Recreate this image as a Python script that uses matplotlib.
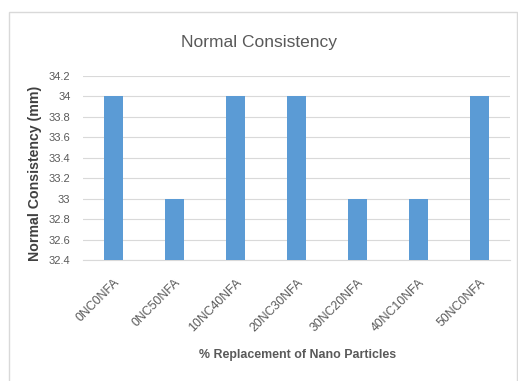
import matplotlib
matplotlib.use("Agg")
import matplotlib.pyplot as plt
from matplotlib.patches import Rectangle

categories = ["0NC0NFA", "0NC50NFA", "10NC40NFA", "20NC30NFA", "30NC20NFA", "40NC10NFA", "50NC0NFA"]
values = [34, 33, 34, 34, 33, 33, 34]
yticks = [32.4, 32.6, 32.8, 33.0, 33.2, 33.4, 33.6, 33.8, 34.0, 34.2]
ytick_labels = ["32.4", "32.6", "32.8", "33", "33.2", "33.4", "33.6", "33.8", "34", "34.2"]

plt.rcParams['font.family'] = ['Liberation Sans', 'DejaVu Sans']

fig = plt.figure(figsize=(5.18, 3.81), dpi=100)
fig.patch.set_facecolor('white')
fig.patches.append(Rectangle((9/518, -0.01), (508)/518, (381-12)/381 + 0.01,
                             transform=fig.transFigure, fill=False,
                             edgecolor='#D9D9D9', linewidth=1.0))

ax = fig.add_axes([83/518, 0.3176, 427/518, 0.483])
x = list(range(len(categories)))
ax.bar(x, values, width=0.30, color='#5B9BD5', zorder=3)
ax.set_ylim(32.4, 34.2)
ax.set_xlim(-0.5, len(categories) - 0.5)
ax.set_yticks(yticks)
ax.set_yticklabels(ytick_labels, fontsize=8, color='#595959')
ax.set_xticks(x)
ax.set_xticklabels(categories, rotation=45, ha='right', rotation_mode='anchor',
                   fontsize=8.9, color='#595959')
ax.tick_params(axis='y', length=0, pad=9)
ax.tick_params(axis='x', length=0, pad=12)
ax.grid(axis='y', color='#D9D9D9', linewidth=0.8, zorder=0)
for s in ax.spines.values():
    s.set_visible(False)
ax.spines['bottom'].set_visible(True)
ax.spines['bottom'].set_color('#D9D9D9')

fig.text(0.5, 1 - 42/381, "Normal Consistency", ha='center', va='center',
         fontsize=12.5, color='#595959')
fig.text(35/518, 1 - 173/381, "Normal Consistency (mm)", rotation=90, ha='center', va='center',
         fontsize=10.2, fontweight='bold', color='#404040')
fig.text(298/518, 1 - 355/381, "% Replacement of Nano Particles", ha='center', va='center',
         fontsize=8.9, fontweight='bold', color='#595959')

fig.savefig("out.png", dpi=100)
